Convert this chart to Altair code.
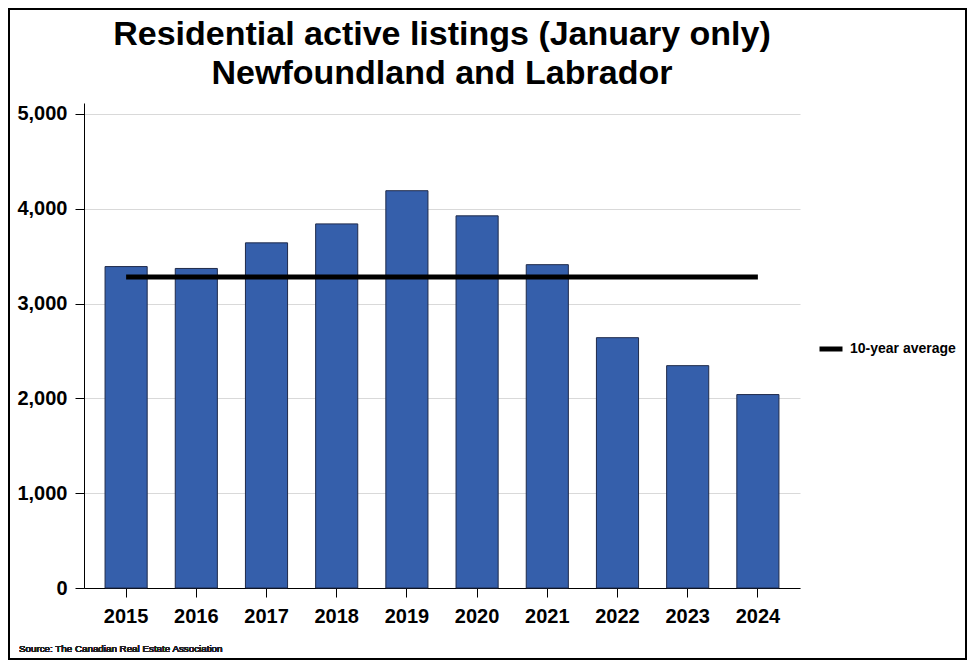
import altair as alt
import pandas as pd

years = ["2015", "2016", "2017", "2018", "2019", "2020", "2021", "2022", "2023", "2024"]
listings = [3390, 3370, 3640, 3840, 4190, 3925, 3410, 2640, 2345, 2040]
average = [3280] * 10
series_name = ["10-year average"] * 10

bars_df = pd.DataFrame({"year": years, "listings": listings})
avg_df = pd.DataFrame({"year": years, "avg": average, "series": series_name})

FONT = "Liberation Sans"

x = alt.X("year:N", title=None,
          scale=alt.Scale(paddingInner=0.4, paddingOuter=0.3),
          axis=alt.Axis(labelAngle=0, labelFontSize=20, labelFontWeight="bold",
                        labelColor="black", labelPadding=9, tickSize=9,
                        tickColor="black", domainColor="black", grid=False))

y = alt.Y("listings:Q", title=None,
          scale=alt.Scale(domain=[0, 5115], nice=False),
          axis=alt.Axis(values=[0, 1000, 2000, 3000, 4000, 5000], format=",.0f",
                        labelFontSize=20, labelFontWeight="bold", labelColor="black",
                        labelPadding=8, tickSize=9, tickColor="black",
                        domainColor="black", gridColor="#d9d9d9"))

bars = alt.Chart(bars_df).mark_bar(color="#355fab", stroke="#1f2a4a", strokeWidth=1).encode(
    x=x, y=y
)

line = alt.Chart(avg_df).mark_line(strokeWidth=5).encode(
    x=alt.X("year:N"),
    y=alt.Y("avg:Q"),
    color=alt.Color("series:N", scale=alt.Scale(range=["black"]),
                    legend=alt.Legend(title=None, orient="none", legendX=733, legendY=232,
                                      symbolType="stroke", symbolStrokeWidth=5,
                                      symbolSize=529, labelFontSize=14,
                                      labelFontWeight="bold", labelColor="black",
                                      labelOffset=5, padding=0))
)

source = alt.Chart(bars_df).mark_text(
    text="Source: The Canadian Real Estate Association", align="left",
    baseline="alphabetic", fontSize=9.8, fontWeight="normal", font=FONT, color="#222222"
).encode(x=alt.value(-65), y=alt.value(549))

border = alt.Chart(bars_df).mark_rect(fill=None, stroke="black", strokeWidth=1.5).encode(
    x=alt.value(-75), x2=alt.value(882), y=alt.value(-94), y2=alt.value(556)
)

chart = alt.layer(bars, line, source, border).properties(
    width=716, height=485,
    padding={"left": 76, "top": 95, "right": 167, "bottom": 72},
    autosize=alt.AutoSizeParams(type="none"),
    title=alt.Title(["Residential active listings (January only)", "Newfoundland and Labrador"],
                    fontSize=34, fontWeight="bold", font=FONT, color="black",
                    lineHeight=39, anchor="middle", frame="group", offset=0,
                    baseline="bottom", dy=117)
).configure(font=FONT).configure_view(stroke=None)

chart.save("out.html", embed_options={"renderer": "svg", "actions": False})
